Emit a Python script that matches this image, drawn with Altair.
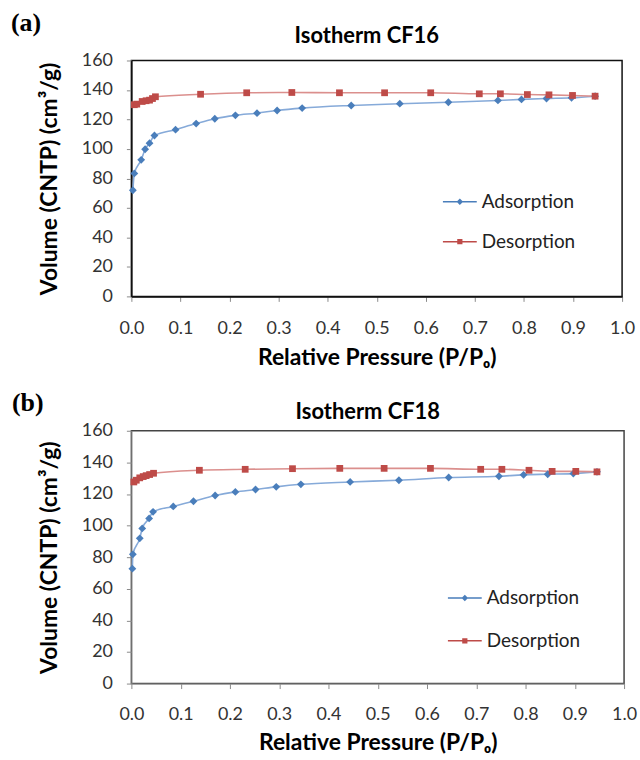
import altair as alt
import pandas as pd

series_names = ["Adsorption", "Desorption"]

# Isotherm CF16 (panel a)
cf16_ads_p = [0.003, 0.006, 0.020, 0.028, 0.037, 0.047, 0.090, 0.132, 0.170, 0.212, 0.256,
              0.297, 0.348, 0.448, 0.547, 0.646, 0.747, 0.795, 0.846, 0.897, 0.945]
cf16_ads_v = [72.0, 83.4, 92.6, 99.8, 103.9, 109.1, 113.1, 117.2, 120.5, 122.8, 124.3,
              126.1, 127.7, 129.5, 130.7, 131.7, 132.9, 133.6, 134.2, 134.7, 135.8]
cf16_des_p = [0.006, 0.011, 0.022, 0.030, 0.037, 0.043, 0.049, 0.141, 0.235, 0.327, 0.424,
              0.516, 0.610, 0.709, 0.752, 0.807, 0.851, 0.899, 0.945]
cf16_des_v = [130.0, 130.4, 132.2, 132.7, 133.1, 134.2, 135.4, 137.1, 138.1, 138.3, 138.1,
              138.1, 138.1, 137.4, 137.4, 136.9, 136.7, 136.3, 135.8]

# Isotherm CF18 (panel b)
cf18_ads_p = [0.002, 0.003, 0.017, 0.022, 0.036, 0.044, 0.085, 0.126, 0.170, 0.211, 0.252,
              0.294, 0.344, 0.444, 0.543, 0.644, 0.746, 0.796, 0.845, 0.897, 0.945]
cf18_ads_v = [72.7, 81.8, 91.9, 98.2, 104.5, 108.7, 112.1, 115.4, 119.0, 121.3, 122.8,
              124.5, 126.1, 127.6, 128.7, 130.4, 131.2, 132.1, 132.5, 132.9, 134.0]
cf18_des_p = [0.005, 0.010, 0.017, 0.024, 0.030, 0.037, 0.045, 0.138, 0.231, 0.327, 0.423,
              0.513, 0.607, 0.709, 0.752, 0.807, 0.854, 0.902, 0.945]
cf18_des_v = [127.6, 128.7, 130.2, 131.0, 131.6, 132.3, 133.1, 135.0, 135.6, 136.0, 136.2,
              136.2, 136.2, 135.6, 135.6, 135.0, 134.3, 134.3, 134.0]

x_ticks = [0.0, 0.1, 0.2, 0.3, 0.4, 0.5, 0.6, 0.7, 0.8, 0.9, 1.0]
y_ticks = [0, 20, 40, 60, 80, 100, 120, 140, 160]

marker_colors = ["#4A7EBB", "#BE4B48"]
line_colors = ["#86AAD9", "#DB8F8D"]
marker_shapes = ["diamond", "square"]
legend_shapes = [
    "M-1,0H1M0,-0.13L0.13,0L0,0.13L-0.13,0ZM0,-0.06L0.06,0L0,0.06L-0.06,0Z",
    "M-1,0H1M-0.11,-0.11H0.11V0.11H-0.11ZM-0.05,-0.05H0.05V0.05H-0.05Z",
]

FONT = "Lato"


def make_df(ap, av, dp, dv):
    return pd.DataFrame({
        "p": ap + dp,
        "v": av + dv,
        "series": [series_names[0]] * len(ap) + [series_names[1]] * len(dp),
    })


def panel(df, title, tag, w, h, lx, ly, rowpad, tag_dx, tag_dy, title_dy,
          axis_col, axis_w, frame_col, xlab_pad, xtitle_pad):
    x = alt.X("p:Q", scale=alt.Scale(domain=[0, 1], nice=False),
              axis=alt.Axis(values=x_ticks, format=".1f", title="Relative Pressure (P/Pₒ)",
                            labelPadding=xlab_pad, titlePadding=xtitle_pad, labelFlush=False,
                            domainColor=axis_col, domainWidth=axis_w))
    y = alt.Y("v:Q", scale=alt.Scale(domain=[0, 160], nice=False),
              axis=alt.Axis(values=y_ticks, title="Volume (CNTP) (cm³/g)",
                            labelPadding=14, titlePadding=20, labelFlush=False,
                            domainColor=axis_col, domainWidth=axis_w))
    base = alt.Chart(df)
    line = base.mark_line(interpolate="monotone", strokeWidth=1.6).encode(
        x=x, y=y,
        color=alt.Color("series:N", scale=alt.Scale(domain=series_names, range=line_colors),
                        legend=None),
    )
    pts = base.mark_point(filled=True, opacity=1).encode(
        x=x, y=y,
        color=alt.Color("series:N", scale=alt.Scale(domain=series_names, range=marker_colors),
                        legend=None),
        shape=alt.Shape("series:N", scale=alt.Scale(domain=series_names, range=marker_shapes),
                        legend=None),
        size=alt.Size("series:N", scale=alt.Scale(domain=series_names, range=[62, 46]),
                      legend=None),
    )
    leg = alt.Legend(title=None, orient="none", legendX=lx, legendY=ly, padding=0,
                     symbolSize=1156, symbolStrokeWidth=1.5, symbolOpacity=1,
                     labelFont=FONT, labelFontSize=19, labelColor="#222",
                     labelOffset=4, rowPadding=rowpad)
    legend_layer = base.mark_point(filled=False, size=0).encode(
        x=x, y=y,
        color=alt.Color("series:N", scale=alt.Scale(domain=series_names, range=marker_colors),
                        legend=leg),
        shape=alt.Shape("series:N", scale=alt.Scale(domain=series_names, range=legend_shapes),
                        legend=leg),
    )
    tag_layer = alt.Chart(pd.DataFrame({"t": [tag]})).mark_text(
        font="Liberation Serif", fontWeight="bold", fontSize=26,
        align="left", baseline="top", color="black",
    ).encode(text="t:N", x=alt.value(tag_dx), y=alt.value(tag_dy))
    title_layer = alt.Chart(pd.DataFrame({"t": [title]})).mark_text(
        font=FONT, fontWeight="bold", fontSize=22,
        align="center", baseline="middle", color="black",
    ).encode(text="t:N", x=alt.value(w / 2 - 10), y=alt.value(title_dy))

    return alt.layer(line, pts, legend_layer, tag_layer, title_layer).resolve_scale(
        color="independent", shape="independent", size="independent"
    ).resolve_legend(
        color="independent", shape="independent", size="independent"
    ).properties(
        width=w, height=h,
        view=alt.ViewBackground(stroke=frame_col, strokeWidth=1.5),
    )


pa = panel(make_df(cf16_ads_p, cf16_ads_v, cf16_des_p, cf16_des_v), "Isotherm CF16", "(a)",
           493, 237, 312, 124, 12, -121, -51, -25, "#111", 1.5, "#111", 18, 9)
pb = panel(make_df(cf18_ads_p, cf18_ads_v, cf18_des_p, cf18_des_v), "Isotherm CF18", "(b)",
           495, 254, 317, 150, 15, -120, -41, -19, "#8a8a8a", 1, "#444", 17, 8)

chart = alt.vconcat(pa, pb, spacing=19).resolve_scale(
    color="independent", shape="independent", size="independent"
).resolve_legend(
    color="independent", shape="independent", size="independent"
).properties(
    padding={"left": 10, "top": 7, "right": 2, "bottom": 2}
).configure_axis(
    grid=False, labelFont=FONT, labelFontSize=18, labelColor="#333",
    titleFont=FONT, titleFontSize=23, titleFontWeight="bold", titleColor="black",
    tickColor="#8a8a8a", tickSize=5, tickWidth=1,
)

chart.save("out.html", embed_options={"renderer": "svg", "actions": False})
